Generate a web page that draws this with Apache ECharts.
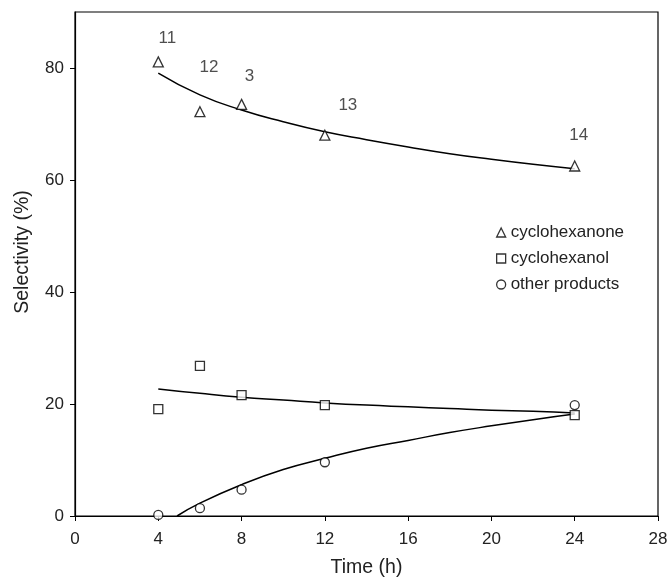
<!DOCTYPE html>
<html><head><meta charset="utf-8">
<script src="https://cdn.jsdelivr.net/npm/echarts@6/dist/echarts.min.js"></script>
<style>html,body{margin:0;padding:0;background:#fff}#c{width:671px;height:583px}</style>
</head><body><div id="c"></div>
<script>
var xTicks = [0, 4, 8, 12, 16, 20, 24, 28];
var yTicks = [0, 20, 40, 60, 80];
var times = [4, 6, 8, 12, 24];
var runLabels = ['11', '12', '3', '13', '14'];
var cyclohexanone = [81.1, 72.2, 73.5, 68.0, 62.5];
var cyclohexanol = [19.1, 26.8, 21.6, 19.8, 18.0];
var otherProducts = [0.2, 1.4, 4.7, 9.6, 19.8];
var fitTimes = [4, 6, 8, 10, 12, 14, 16, 18, 20, 22, 24];
var fitKetone = [79.1, 75.2, 72.5, 70.4, 68.6, 67.2, 65.9, 64.7, 63.7, 62.8, 62.0];
var fitAlcohol = [22.7, 21.9, 21.2, 20.7, 20.2, 19.8, 19.5, 19.2, 18.9, 18.7, 18.4];
var fitOtherTimes = [4.9, 6, 8, 10, 12, 14, 16, 18, 20, 22, 24];
var fitOther = [0, 2.3, 5.6, 8.3, 10.3, 12.1, 13.5, 14.9, 16.1, 17.2, 18.2];

var labelOffsets = [[9, -24], [9, -44], [8, -28], [23, -30], [4, -31]];
function pts(xs, ys) { return xs.map(function (x, i) { return [x, ys[i]]; }); }
var font = 'Liberation Sans, Arial, sans-serif';
var chart = echarts.init(document.getElementById('c'));
var sym = {color: '#fff', borderColor: '#000', borderWidth: 1.3};
chart.setOption({
  animation: false,
  grid: {left: 75, right: 13, top: 12, bottom: 67, show: true, borderColor: '#000', borderWidth: 1.2},
  legend: {
    orient: 'vertical', left: 491, top: 219, itemGap: 9, itemWidth: 9, itemHeight: 9,
    textStyle: {fontFamily: font, fontSize: 17, color: '#222'},
    data: [
      {name: 'cyclohexanone', icon: 'triangle', itemStyle: sym},
      {name: 'cyclohexanol', icon: 'rect', itemStyle: sym},
      {name: 'other products', icon: 'circle', itemStyle: sym}
    ]
  },
  xAxis: {
    type: 'value', min: xTicks[0], max: xTicks[xTicks.length - 1], interval: 4,
    name: 'Time (h)', nameLocation: 'middle', nameGap: 42,
    nameTextStyle: {fontFamily: font, fontSize: 19.5, color: '#222'},
    axisLine: {lineStyle: {color: '#000', width: 1.2}},
    axisTick: {show: true, inside: false, length: 5, lineStyle: {color: '#000'}, customValues: xTicks},
    axisLabel: {fontFamily: font, fontSize: 17, color: '#222', margin: 15, customValues: xTicks},
    splitLine: {show: false}
  },
  yAxis: {
    type: 'value', min: 0, max: 90, interval: 20,
    name: 'Selectivity (%)', nameLocation: 'middle', nameGap: 42, nameRotate: 90,
    nameTextStyle: {fontFamily: font, fontSize: 19.5, color: '#222', padding: [0, 0, 0, 24]},
    axisLine: {show: true, lineStyle: {color: '#000', width: 1.2}},
    axisTick: {show: true, inside: false, length: 5, lineStyle: {color: '#000'}, customValues: yTicks},
    axisLabel: {fontFamily: font, fontSize: 17, color: '#222', margin: 11, customValues: yTicks},
    splitLine: {show: false}
  },
  series: [
    {name: 'cyclohexanone', type: 'scatter', symbol: 'triangle', symbolSize: 10, itemStyle: sym, z: 5,
      data: times.map(function (t, i) {
        return {value: [t, cyclohexanone[i]], label: {show: true, formatter: runLabels[i], position: 'inside',
          offset: labelOffsets[i], fontFamily: font, fontSize: 17, color: '#222'}};
      })},
    {name: 'cyclohexanol', type: 'scatter', symbol: 'rect', symbolSize: 9, itemStyle: sym, z: 5,
      data: pts(times, cyclohexanol)},
    {name: 'other products', type: 'scatter', symbol: 'circle', symbolSize: 9, itemStyle: sym, z: 5,
      data: pts(times, otherProducts)},
    {type: 'line', smooth: true, showSymbol: false, lineStyle: {color: '#000', width: 1.5}, data: pts(fitTimes, fitKetone)},
    {type: 'line', smooth: true, showSymbol: false, lineStyle: {color: '#000', width: 1.5}, data: pts(fitTimes, fitAlcohol)},
    {type: 'line', smooth: true, showSymbol: false, lineStyle: {color: '#000', width: 1.5}, data: pts(fitOtherTimes, fitOther)}
  ]
});
</script></body></html>
